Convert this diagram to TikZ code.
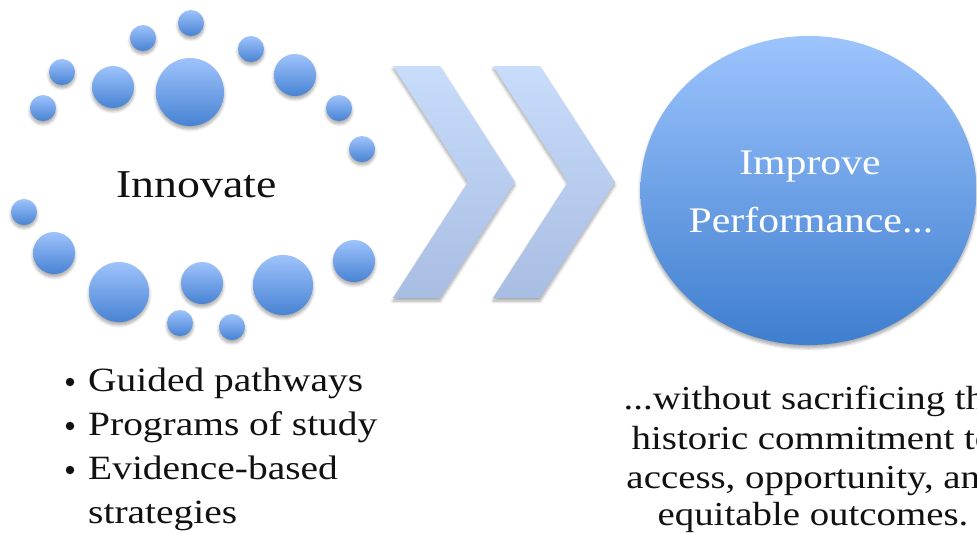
\documentclass[tikz,border=0pt]{standalone}
\usepackage{fontspec}
\setmainfont{Liberation Serif}[FakeStretch=1.16]
\usetikzlibrary{shadows.blur,shapes.geometric}
\definecolor{balltop}{HTML}{9EC3FC}
\definecolor{ballbot}{HTML}{4883D3}
\definecolor{chevtop}{HTML}{C8DCFB}
\definecolor{chevbot}{HTML}{A8BDE2}
\definecolor{bigtop}{HTML}{9DC4FD}
\definecolor{bigbot}{HTML}{3E7ECF}
\definecolor{ink}{HTML}{111111}
\begin{document}
\begin{tikzpicture}[x=1pt,y=-1pt,
  softshadow/.style={blur shadow={shadow xshift=0pt,shadow yshift=-3pt,
      shadow blur steps=6,shadow blur radius=3pt,shadow opacity=35}},
  ball/.style={circle,inner sep=0pt,draw=none,top color=balltop,
      bottom color=ballbot,softshadow},
  chevron/.style={top color=chevtop,bottom color=chevbot,draw=none,softshadow},
  bullettext/.style={anchor=base west,inner sep=0pt,text=ink,
      font=\fontsize{34}{40}\selectfont},
  bulletdot/.style={circle,inner sep=0pt,minimum size=8.5pt,fill=ink},
  notetext/.style={anchor=base,inner sep=0pt,text=ink,
      font=\fontsize{33.5}{38}\selectfont},
  bigtext/.style={anchor=base,inner sep=0pt,text=white,
      font=\fontsize{36}{44}\selectfont}]
\useasboundingbox (0,0) rectangle (977,533);

% ring of spheres around "Innovate"
\foreach \n/\x/\y/\r in {
  b1/191/23/13, b2/143/38/13, b3/251/49/13, b4/62/72/13,
  b5/113/87/21, b6/190/92/34, b7/295/75/21, b8/43/108/13,
  b9/339/108/13, b10/362/149/13, b11/24/212/13, b12/54/253/21,
  b13/119/292/30, b14/202/283/21, b15/283/285/30, b16/354/261/21,
  b17/180/323/13, b18/232/327/13}
  \node[ball,minimum size=2*\r pt] (\n) at (\x,\y) {};

\node[anchor=base,inner sep=0pt,text=ink,font=\fontsize{39.5}{48}\selectfont]
  (innov) at (196.5,197) {Innovate};

% double chevron
\shade[chevron] (393,66) -- (440,66) -- (515,182) -- (440,298) -- (393,298)
  -- (468,182) -- cycle;
\shade[chevron] (493,66) -- (540,66) -- (615,182) -- (540,298) -- (493,298)
  -- (568,182) -- cycle;

% target circle
\node[ellipse,inner sep=0pt,minimum width=336pt,minimum height=309pt,
  top color=bigtop,bottom color=bigbot,softshadow] (goal) at (808.5,190.5) {};
\node[bigtext] (goal1) at (810,174) {Improve};
\node[bigtext] (goal2) at (811,232) {Performance...};

% bullet list
\foreach \n/\y/\t in {g/391/Guided pathways, p/435/Programs of study,
    e/479/Evidence-based}{
  \node[bulletdot] (dot\n) at (70,\y-9) {};
  \node[bullettext] (item\n) at (88,\y) {\t};
}
\node[bullettext] (iteme2) at (88,523) {strategies};

% closing remark, running past the right edge
\node[notetext] (n1) at (813,409) {...without sacrificing the};
\node[notetext] (n2) at (813,449) {historic commitment to};
\node[notetext] (n3) at (813,488) {access, opportunity, and};
\node[notetext] (n4) at (813,525) {equitable outcomes.};
\end{tikzpicture}
\end{document}
